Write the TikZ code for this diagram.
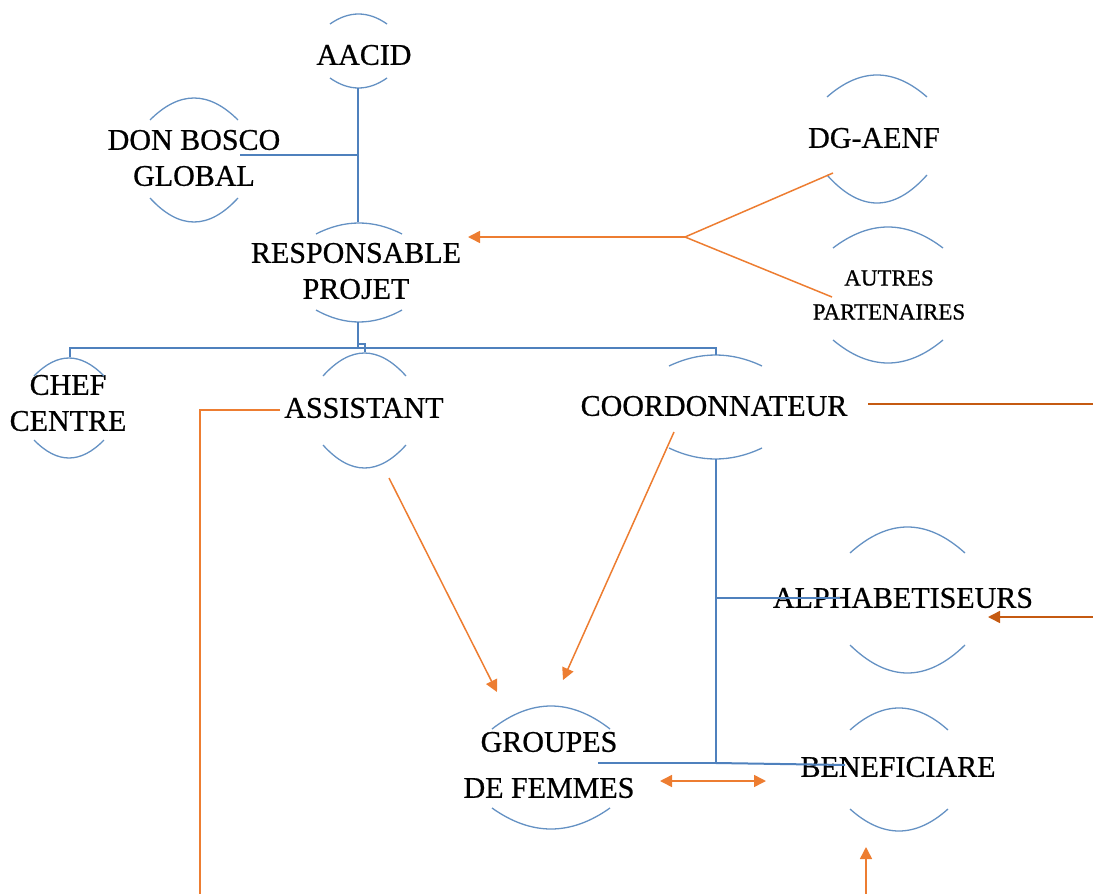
\documentclass[tikz,border=0pt]{standalone}
\usepackage{fontspec}
\setmainfont{Liberation Serif}[FakeBold=0.7]
\newfontfamily\boldish{Liberation Serif}[FakeBold=0.7]
\usetikzlibrary{arrows.meta,calc}
\definecolor{lineblue}{RGB}{79,129,189}
\definecolor{arcblue}{RGB}{100,145,195}
\definecolor{orng}{RGB}{237,125,49}
\definecolor{dorng}{RGB}{197,90,17}
% two arcs: x1, x2, top end y, top peak y, bottom end y, bottom low y (image coords)
\newcommand\ovarcs[6]{%
  \draw[arcline] (#1,-#3) .. controls ({#1+(#2-#1)/3},{-(#3+4/3*(#4-#3))}) and ({#2-(#2-#1)/3},{-(#3+4/3*(#4-#3))}) .. (#2,-#3);
  \draw[arcline] (#1,-#5) .. controls ({#1+(#2-#1)/3},{-(#5+4/3*(#6-#5))}) and ({#2-(#2-#1)/3},{-(#5+4/3*(#6-#5))}) .. (#2,-#5);
}
\begin{document}
\begin{tikzpicture}[x=1pt,y=1pt,
  arcline/.style={draw=arcblue,line width=1.3pt},
  bl/.style={draw=lineblue,line width=2pt},
  og/.style={draw=orng,line width=1.5pt},
  dog/.style={draw=dorng,line width=1.5pt},
  tip/.style={-{Triangle[length=12pt,width=12pt]}},
  lbl/.style={align=center,inner sep=0pt,font=\boldish\fontsize{30}{36}\selectfont},
  lblsmall/.style={align=center,inner sep=0pt,font=\boldish\fontsize{23}{34}\selectfont},
  lblwide/.style={align=center,inner sep=0pt,font=\boldish\fontsize{30}{46}\selectfont}]
\useasboundingbox (0,0) rectangle (1093,-894);

% nodes (texts)
\node[lbl] (aacid) at (364,-55) {AACID};
\node[lbl] (don) at (194,-158) {DON BOSCO\\GLOBAL};
\node[lbl] (resp) at (356,-271) {RESPONSABLE\\PROJET};
\node[lbl] (dg) at (874,-138) {DG-AENF};
\node[lblsmall] (autres) at (889,-295) {AUTRES\\PARTENAIRES};
\node[lbl] (chef) at (68,-403) {CHEF\\CENTRE};
\node[lbl] (assist) at (364,-408) {ASSISTANT};
\node[lbl] (coord) at (714,-406) {COORDONNATEUR};
\node[lbl] (alpha) at (903,-598) {ALPHABETISEURS};
\node[lblwide] (groupes) at (549,-765) {GROUPES\\DE FEMMES};
\node[lbl] (benef) at (898,-767) {BENEFICIARE};

% arcs
\ovarcs{330}{387}{24}{14}{78}{88}
\ovarcs{150}{238}{120}{98}{198}{222}
\ovarcs{316}{402}{234}{223}{310}{322}
\ovarcs{827}{927}{97}{75}{175}{203}
\ovarcs{833}{943}{248}{227}{340}{363}
\ovarcs{34}{104}{376}{358}{440}{458}
\ovarcs{323}{406}{376}{353}{445}{468}
\ovarcs{669}{762}{366}{355}{448}{459}
\ovarcs{850}{965}{553}{527}{645}{673}
\ovarcs{492}{610}{729}{706}{808}{829}
\ovarcs{850}{948}{730}{708}{809}{831}

% connector points
\coordinate (aacidB) at (358,-88);
\coordinate (respT) at (358,-222);
\coordinate (donR) at (240,-155);
\coordinate (j1) at (358,-155);
\coordinate (respB) at (358,-322);
\coordinate (j2) at (358,-348);
\coordinate (chefT) at (70,-357);
\coordinate (assistT) at (365,-352);
\coordinate (coordT) at (716,-355);
\coordinate (coordB) at (716,-459);
\coordinate (alphaL) at (840,-598);
\coordinate (j3) at (716,-598);
\coordinate (j4) at (716,-763);
\coordinate (groupR) at (598,-763);
\coordinate (benefL) at (845,-765);

% blue hierarchy
\draw[bl] (aacidB) -- (respT);
\draw[bl] (donR) -- (j1);
\draw[bl] (respB) -- (j2);
\draw[bl] (chefT) |- (j2);
\draw[bl,line width=1.5pt] (j2) ++(0,4) -| (assistT);
\draw[bl] (j2) -| (coordT);
\draw[bl] (coordB) -- (j4);
\draw[bl] (j3) -- (alphaL);
\draw[bl] (groupR) -- (j4);
\draw[bl] (j4) -- (benefL);

% orange: partners to responsable
\coordinate (dgL) at (833,-173);
\coordinate (autL) at (832,-297);
\coordinate (jp) at (685,-237);
\coordinate (respR) at (468,-237);
\draw[og] (dgL) -- (jp) -- (autL);
\draw[og,tip] (jp) -- (respR);

% orange: assistant / coordonnateur to groupes
\coordinate (assistS) at (389,-478);
\coordinate (groupA) at (497,-692);
\coordinate (coordS) at (674,-432);
\coordinate (groupB) at (563,-680);
\draw[og,tip] (assistS) -- (groupA);
\draw[og,tip] (coordS) -- (groupB);

% orange: assistant loop to beneficiare
\coordinate (assistL) at (280,-410);
\coordinate (e1) at (200,-410);
\coordinate (e2) at (200,-894);
\coordinate (e3) at (866,-894);
\coordinate (benefB) at (866,-847);
\draw[og] (assistL) -- (e1) -- (e2);
\draw[og,tip] (e3) -- (benefB);

% orange: coordonnateur to alphabetiseurs
\coordinate (coordR) at (868,-404);
\coordinate (e4) at (1093,-404);
\coordinate (e5) at (1093,-617);
\coordinate (alphaR) at (988,-617);
\draw[dog] (coordR) -- (e4);
\draw[dog,tip] (e5) -- (alphaR);

% double arrow groupes <-> beneficiare
\coordinate (gdR) at (660,-781);
\coordinate (bdL) at (766,-781);
\draw[og,{Triangle[length=12pt,width=12pt]}-{Triangle[length=12pt,width=12pt]}] (gdR) -- (bdL);
\end{tikzpicture}
\end{document}
